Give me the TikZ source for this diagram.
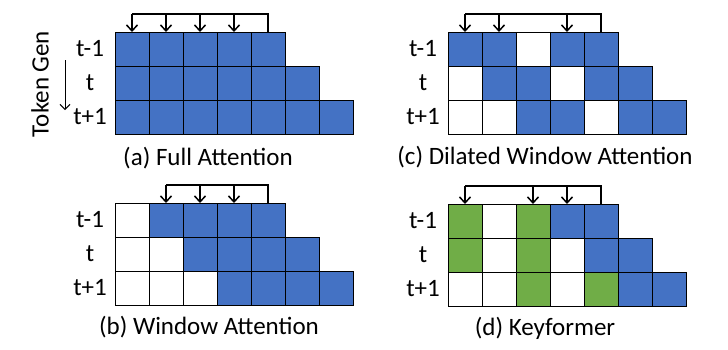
\documentclass[tikz,border=0pt]{standalone}
\usepackage{fontspec}
\setmainfont{Carlito}
\usetikzlibrary{arrows.meta,calc}
\definecolor{cb}{HTML}{4472C4}
\definecolor{cg}{HTML}{70AD47}
\definecolor{cw}{HTML}{FFFFFF}
\tikzset{
  cell/.style={draw=black, line width=0.9pt, minimum size=34pt, inner sep=0pt, outer sep=0pt, anchor=north west},
  lbl/.style={font=\fontsize{25}{28}\selectfont, inner sep=0pt},
  captxt/.style={font=\fontsize{25}{28}\selectfont, inner sep=0pt},
  barline/.style={line width=1.8pt, line join=miter},
  arrline/.style={line width=1.5pt, -{Straight Barb[length=6pt,width=11pt,line width=1.5pt]}},
}
\newcommand\attnpanel[6]{%
  \foreach \cc [count=\i from 0] in {#4} \node[cell, fill=\cc] (#1-0-\i) at (#2+34*\i, #3) {};
  \foreach \cc [count=\i from 0] in {#5} \node[cell, fill=\cc] (#1-1-\i) at (#2+34*\i, #3+34) {};
  \foreach \cc [count=\i from 0] in {#6} \node[cell, fill=\cc] (#1-2-\i) at (#2+34*\i, #3+68) {};
  \node[lbl] (#1-l0) at (#2-25, #3+17) {t-1};
  \node[lbl] (#1-l1) at (#2-25, #3+51) {t};
  \node[lbl] (#1-l2) at (#2-25, #3+85) {t+1};
}
\newcommand\attnarrows[3]{%
  \coordinate (#1-bar) at ($(#1-0-4.north)+(0pt,18pt)$);
  \draw[barline] (#1-0-4.north) -- (#1-bar) -- (#1-0-#2.north |- #1-bar);
  \foreach \k in {#3} \draw[arrline] (#1-0-\k.north |- #1-bar) -- (#1-0-\k.north);
}
\begin{document}
\begin{tikzpicture}[x=1pt, y=-1pt]
\fill[white] (0,0) rectangle (728,349);
\useasboundingbox (0,0) rectangle (728,349);

\attnpanel{a}{115}{32}{cb,cb,cb,cb,cb}{cb,cb,cb,cb,cb,cb}{cb,cb,cb,cb,cb,cb,cb}
\attnarrows{a}{0}{0,1,2,3}
\node[captxt] (a-cap) at (208,158) {(a) Full Attention};

\attnpanel{b}{115}{203}{cw,cb,cb,cb,cb}{cw,cw,cb,cb,cb,cb}{cw,cw,cw,cb,cb,cb,cb}
\attnarrows{b}{1}{1,2,3}
\node[captxt] (b-cap) at (209,327) {(b) Window Attention};

\attnpanel{c}{448}{32}{cb,cb,cw,cb,cb}{cw,cb,cb,cw,cb,cb}{cw,cw,cb,cb,cw,cb,cb}
\attnarrows{c}{0}{0,1,3}
\node[captxt] (c-cap) at (545,157) {(c) Dilated Window Attention};

\attnpanel{d}{448}{204}{cg,cw,cg,cb,cb}{cg,cw,cg,cw,cb,cb}{cw,cw,cg,cw,cg,cb,cb}
\attnarrows{d}{0}{0,2,3}
\node[captxt] (d-cap) at (545,328) {(d) Keyformer};

\node[lbl, rotate=90] (tg) at (40,84) {Token Gen};
\coordinate (tg-s) at (65,60);
\coordinate (tg-e) at (65,110);
\draw[line width=1pt, -{Straight Barb[length=5pt,width=10pt,line width=1pt]}] (tg-s) -- (tg-e);
\end{tikzpicture}
\end{document}
